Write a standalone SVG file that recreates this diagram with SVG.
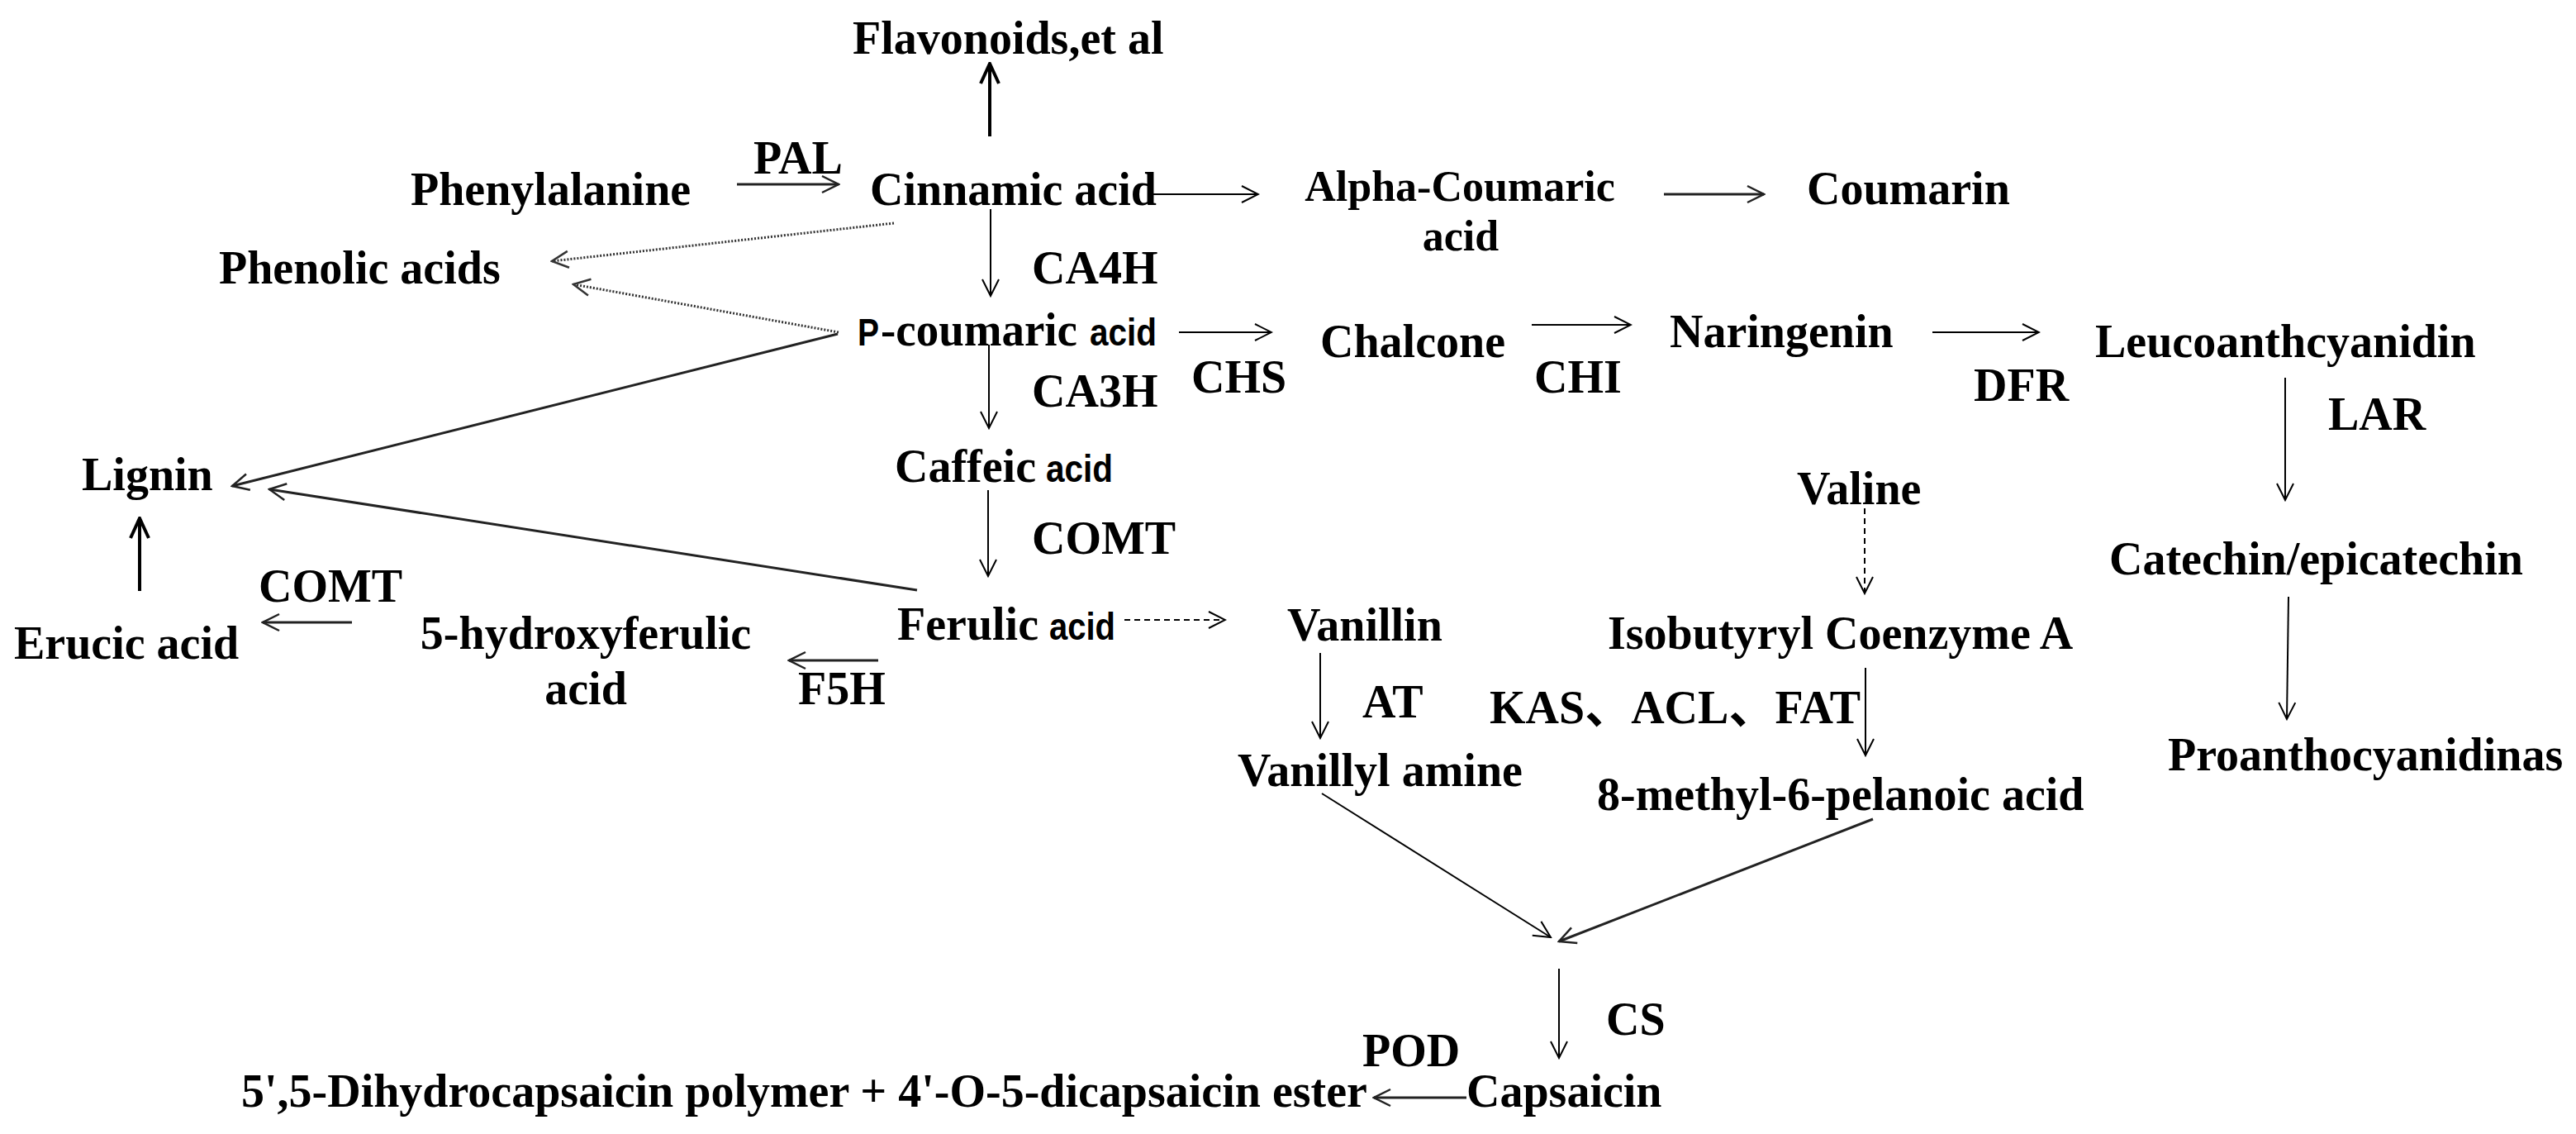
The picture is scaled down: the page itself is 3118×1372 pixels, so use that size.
<svg xmlns="http://www.w3.org/2000/svg" width="3118" height="1372" viewBox="0 0 3118 1372">
<style>
text{font-family:"Liberation Serif","Times New Roman","Noto Sans CJK SC",serif;font-weight:bold;font-size:56px;fill:#000}
.s{font-family:"Liberation Sans",Arial,sans-serif;font-size:46px}
.a52{font-size:52px}
.ln{fill:none;stroke:#000;stroke-width:2}
.md{fill:none;stroke:#222;stroke-width:3}
.tk{fill:none;stroke:#000;stroke-width:4}
.dot{fill:none;stroke:#333;stroke-width:3;stroke-dasharray:2 2}
.dash{fill:none;stroke:#000;stroke-width:2;stroke-dasharray:7 5}
</style>
<defs>
<marker id="ah" viewBox="-22 -12 24 24" refX="0" refY="0" markerWidth="24" markerHeight="24" markerUnits="userSpaceOnUse" orient="auto"><path d="M-20,-10 L0,0 L-20,10" fill="none" stroke="#000" stroke-width="2"/></marker>
<marker id="ahm" viewBox="-22 -12 24 24" refX="0" refY="0" markerWidth="24" markerHeight="24" markerUnits="userSpaceOnUse" orient="auto"><path d="M-20,-10 L0,0 L-20,10" fill="none" stroke="#222" stroke-width="2.5"/></marker>
<marker id="ahk" viewBox="-28 -14 30 28" refX="0" refY="0" markerWidth="30" markerHeight="28" markerUnits="userSpaceOnUse" orient="auto"><path d="M-24,-11 L0,0 L-24,11" fill="none" stroke="#000" stroke-width="4"/></marker>
<marker id="ahd" viewBox="-22 -12 24 24" refX="0" refY="0" markerWidth="24" markerHeight="24" markerUnits="userSpaceOnUse" orient="auto"><path d="M-20,-10 L0,0 L-20,10" fill="none" stroke="#333" stroke-width="2.5"/></marker>
</defs>
<rect width="3118" height="1372" fill="#fff"/>
<g id="connectors">
<line class="tk" x1="1198" y1="165" x2="1198" y2="77" marker-end="url(#ahk)"/>
<line class="md" x1="892" y1="223" x2="1015" y2="223" marker-end="url(#ahm)"/>
<line class="ln" x1="1396" y1="235" x2="1523" y2="235" marker-end="url(#ah)"/>
<line class="md" x1="2014" y1="235" x2="2135" y2="235" marker-end="url(#ahm)"/>
<line class="dot" x1="1082" y1="270" x2="668" y2="316" marker-end="url(#ahd)"/>
<line class="dot" x1="1015" y1="402" x2="694" y2="344" marker-end="url(#ahd)"/>
<line class="ln" x1="1199" y1="253" x2="1199" y2="358" marker-end="url(#ah)"/>
<line class="ln" x1="1427" y1="402" x2="1539" y2="402" marker-end="url(#ah)"/>
<line class="ln" x1="1854" y1="393" x2="1974" y2="393" marker-end="url(#ah)"/>
<line class="ln" x1="2339" y1="402" x2="2468" y2="402" marker-end="url(#ah)"/>
<line class="md" x1="1014" y1="404" x2="281" y2="588" marker-end="url(#ahm)"/>
<line class="ln" x1="1197" y1="417" x2="1197" y2="518" marker-end="url(#ah)"/>
<line class="ln" x1="2766" y1="457" x2="2766" y2="605" marker-end="url(#ah)"/>
<line class="ln" x1="1196" y1="593" x2="1196" y2="697" marker-end="url(#ah)"/>
<line class="md" x1="1110" y1="714" x2="326" y2="592" marker-end="url(#ahm)"/>
<line class="dash" x1="2257" y1="615" x2="2257" y2="718" marker-end="url(#ah)"/>
<line class="ln" x1="2770" y1="722" x2="2768" y2="870" marker-end="url(#ah)"/>
<line class="tk" x1="169" y1="715" x2="169" y2="627" marker-end="url(#ahk)"/>
<line class="md" x1="426" y1="753" x2="318" y2="753" marker-end="url(#ahm)"/>
<line class="dash" x1="1361" y1="750" x2="1483" y2="750" marker-end="url(#ah)"/>
<line class="md" x1="1063" y1="799" x2="955" y2="799" marker-end="url(#ahm)"/>
<line class="ln" x1="1598" y1="790" x2="1598" y2="893" marker-end="url(#ah)"/>
<line class="ln" x1="2258" y1="808" x2="2258" y2="914" marker-end="url(#ah)"/>
<line class="ln" x1="1600" y1="960" x2="1877" y2="1134" marker-end="url(#ah)"/>
<line class="md" x1="2267" y1="991" x2="1887" y2="1139" marker-end="url(#ahm)"/>
<line class="ln" x1="1887" y1="1172" x2="1887" y2="1280" marker-end="url(#ah)"/>
<line class="md" x1="1775" y1="1328" x2="1663" y2="1328" marker-end="url(#ahm)"/>
</g>
<g id="flavonoids"><text x="1032" y="65">Flavonoids,et al</text></g>
<g id="pal"><text x="912" y="210">PAL</text></g>
<g id="phenylalanine"><text x="497" y="248">Phenylalanine</text></g>
<g id="cinnamic"><text x="1053" y="248">Cinnamic acid</text></g>
<g id="alpha-coumaric"><text class="a52" x="1767" y="243" text-anchor="middle">Alpha-Coumaric</text><text class="a52" x="1768" y="303" text-anchor="middle">acid</text></g>
<g id="coumarin"><text x="2187" y="247">Coumarin</text></g>
<g id="phenolic"><text x="265" y="343">Phenolic acids</text></g>
<g id="ca4h"><text x="1249" y="343">CA4H</text></g>
<g id="p-coumaric"><text class="s" x="1038" y="418" textLength="26" lengthAdjust="spacingAndGlyphs">P</text><text x="1066" y="418" textLength="238" lengthAdjust="spacingAndGlyphs">-coumaric</text><text class="s" x="1319" y="418" textLength="81" lengthAdjust="spacingAndGlyphs">acid</text></g>
<g id="chalcone"><text x="1598" y="432">Chalcone</text></g>
<g id="chs"><text x="1442" y="475">CHS</text></g>
<g id="chi"><text x="1857" y="475">CHI</text></g>
<g id="naringenin"><text x="2021" y="420">Naringenin</text></g>
<g id="leucoanthcyanidin"><text x="2536" y="432">Leucoanthcyanidin</text></g>
<g id="dfr"><text x="2389" y="485">DFR</text></g>
<g id="lar"><text x="2818" y="520">LAR</text></g>
<g id="ca3h"><text x="1249" y="492">CA3H</text></g>
<g id="lignin"><text x="99" y="593">Lignin</text></g>
<g id="caffeic"><text x="1083" y="583">Caffeic</text><text class="s" x="1266" y="583" textLength="81" lengthAdjust="spacingAndGlyphs">acid</text></g>
<g id="comt-mid"><text x="1249" y="670">COMT</text></g>
<g id="catechin"><text x="2553" y="695">Catechin/epicatechin</text></g>
<g id="valine"><text x="2175" y="610">Valine</text></g>
<g id="comt-left"><text x="313" y="728">COMT</text></g>
<g id="ferulic"><text x="1086" y="774">Ferulic</text><text class="s" x="1270" y="774" textLength="80" lengthAdjust="spacingAndGlyphs">acid</text></g>
<g id="vanillin"><text x="1558" y="775">Vanillin</text></g>
<g id="isobutyryl"><text x="1946" y="785">Isobutyryl Coenzyme A</text></g>
<g id="erucic"><text x="17" y="797">Erucic acid</text></g>
<g id="hydroxyferulic"><text x="709" y="785" text-anchor="middle">5-hydroxyferulic</text><text x="709" y="852" text-anchor="middle">acid</text></g>
<g id="f5h"><text x="966" y="852">F5H</text></g>
<g id="at"><text x="1649" y="868">AT</text></g>
<g id="kas"><text x="1803" y="875">KAS、ACL、FAT</text></g>
<g id="proanthocyanidinas"><text x="2624" y="932">Proanthocyanidinas</text></g>
<g id="vanillyl-amine"><text x="1498" y="951">Vanillyl amine</text></g>
<g id="methyl-pelanoic"><text x="1933" y="980">8-methyl-6-pelanoic acid</text></g>
<g id="cs"><text x="1944" y="1252">CS</text></g>
<g id="pod"><text x="1649" y="1290">POD</text></g>
<g id="capsaicin"><text x="1775" y="1339">Capsaicin</text></g>
<g id="polymer"><text x="292" y="1339">5',5-Dihydrocapsaicin polymer + 4'-O-5-dicapsaicin ester</text></g>
</svg>
